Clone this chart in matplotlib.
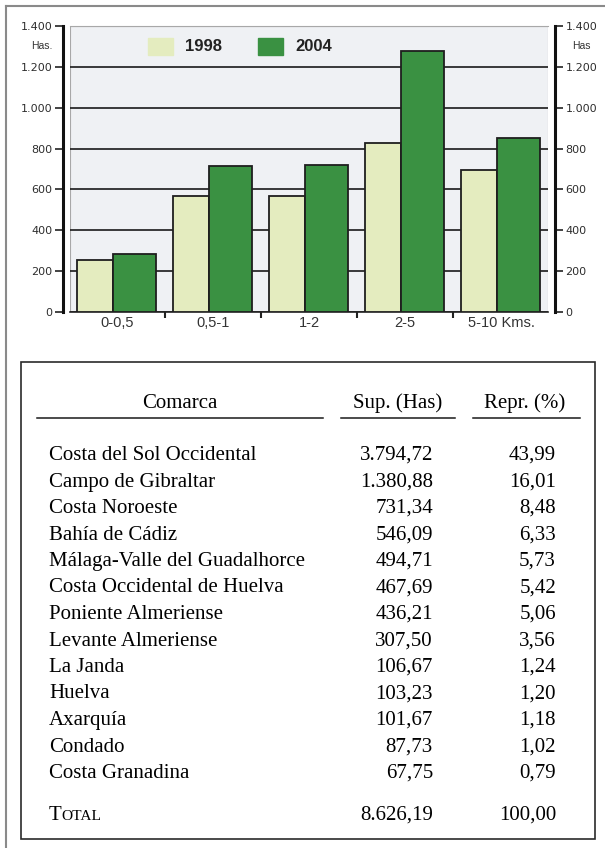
import matplotlib
matplotlib.use("Agg")
import matplotlib.pyplot as plt
from matplotlib.patches import Rectangle
from matplotlib.ticker import FuncFormatter, FixedLocator

# chart data
cats = ["0-0,5", "0,5-1", "1-2", "2-5", "5-10 Kms."]
v1998 = [255, 570, 570, 825, 695]
v2004 = [285, 717, 720, 1280, 851]

# table data
comarcas = ["Costa del Sol Occidental", "Campo de Gibraltar", "Costa Noroeste",
            "Bahía de Cádiz", "Málaga-Valle del Guadalhorce",
            "Costa Occidental de Huelva", "Poniente Almeriense",
            "Levante Almeriense", "La Janda", "Huelva", "Axarquía",
            "Condado", "Costa Granadina"]
sup = ["3.794,72", "1.380,88", "731,34", "546,09", "494,71", "467,69",
       "436,21", "307,50", "106,67", "103,23", "101,67", "87,73", "67,75"]
repr_ = ["43,99", "16,01", "8,48", "6,33", "5,73", "5,42", "5,06", "3,56",
         "1,24", "1,20", "1,18", "1,02", "0,79"]
total_sup = "8.626,19"
total_repr = "100,00"

light = "#e4ecbf"
dark = "#3a9142"
W, H = 605, 848

fig = plt.figure(figsize=(W / 100, H / 100), dpi=100)

# overlay in pixel units for the frame and the table
ov = fig.add_axes([0, 0, 1, 1])
ov.set_xlim(0, W)
ov.set_ylim(H, 0)
ov.axis("off")
ov.plot([6, 6], [6, H], color="#8a8a8a", lw=1.5)
ov.plot([6, W], [6, 6], color="#8a8a8a", lw=1.5)

# ---- bar chart ----
ax = fig.add_axes([70 / W, (H - 312) / H, 478 / W, 286 / H])
ax.set_facecolor("#eff1f4")
x = list(range(len(cats)))
ax.bar([i - 0.42 for i in x], v1998, width=0.38, align="edge", color=light,
       edgecolor="#1e1e1e", lw=1.3, zorder=3)
ax.bar([i - 0.04 for i in x], v2004, width=0.45, align="edge", color=dark,
       edgecolor="#1e1e1e", lw=1.3, zorder=4)
ax.set_xlim(-0.49, 4.49)
ax.set_ylim(0, 1400)

yt = [0, 200, 400, 600, 800, 1000, 1200, 1400]
ax.set_yticks(yt)
ax.yaxis.set_major_formatter(FuncFormatter(lambda v, p: f"{int(v):,}".replace(",", ".")))
ax.yaxis.set_ticks_position("both")
ax.tick_params(axis="y", which="major", direction="out", length=6, width=1.2,
               labelsize=8, labelcolor="#2e2e2e", pad=1.5, labelright=True,
               color="#222222")
ax.grid(axis="y", color="#1a1a1a", lw=1.2, zorder=2)
gls = ax.get_ygridlines()
gls[0].set_visible(False)
gls[-1].set_visible(False)

ax.set_xticks(x)
ax.set_xticklabels(cats)
ax.xaxis.set_minor_locator(FixedLocator([-0.5, 0.5, 1.5, 2.5, 3.5, 4.5]))
ax.tick_params(axis="x", which="major", length=0, labelsize=10.5,
               labelcolor="#333333", pad=3)
ax.tick_params(axis="x", which="minor", direction="out", length=4, width=1.5,
               color="#222222")
for lab in ax.get_xticklabels() + ax.yaxis.get_ticklabels(which="both"):
    lab.set_family("Liberation Sans")
for lab in ax.yaxis.get_majorticklabels():
    lab.set_family("Liberation Sans")

for s in ["left", "right"]:
    ax.spines[s].set_position(("outward", 5))
    ax.spines[s].set_linewidth(2.2)
    ax.spines[s].set_color("#111111")
ax.spines["top"].set_color("#a8a8a8")
ax.spines["top"].set_linewidth(0.8)
ax.spines["bottom"].set_color("#222222")
ax.spines["bottom"].set_linewidth(1.2)
ax.add_patch(Rectangle((0, 0), 1, 1, transform=ax.transAxes, fill=False,
                       ec="#a8a8a8", lw=0.8, zorder=1))

ax.text(-0.036, 0.929, "Has.", transform=ax.transAxes, ha="right", va="center",
        fontsize=7.5, color="#333333", family="Liberation Sans")
ax.text(1.07, 0.929, "Has", transform=ax.transAxes, ha="center", va="center",
        fontsize=7.5, color="#333333", family="Liberation Sans")

# legend
for px, col, lab in [(0.163, light, "1998"), (0.393, dark, "2004")]:
    ax.add_patch(Rectangle((px, 0.899), 0.052, 0.059, transform=ax.transAxes,
                           color=col, zorder=5))
    ax.text(px + 0.078, 0.929, lab, transform=ax.transAxes, ha="left",
            va="center", fontsize=12, fontweight="bold", color="#222222",
            family="Liberation Sans")

# ---- table ----
serif = ["Liberation Serif", "DejaVu Serif"]
fs = 15
ov.add_patch(Rectangle((21, 362), 574, 477, fill=False, ec="#2a2a2a", lw=1.2))

ov.text(180, 408, "Comarca", ha="center", va="baseline", fontsize=fs, family=serif)
ov.text(398, 408, "Sup. (Has)", ha="center", va="baseline", fontsize=fs, family=serif)
ov.text(525, 408, "Repr. (%)", ha="center", va="baseline", fontsize=fs, family=serif)
for x0, x1 in [(37, 323), (341, 455), (473, 580)]:
    ov.plot([x0, x1], [418, 418], color="#1a1a1a", lw=1.1)

for i, name in enumerate(comarcas):
    yb = 460 + 26.5 * i
    ov.text(49, yb, name, ha="left", va="baseline", fontsize=fs, family=serif)
    ov.text(433, yb, sup[i], ha="right", va="baseline", fontsize=fs, family=serif)
    ov.text(556, yb, repr_[i], ha="right", va="baseline", fontsize=fs, family=serif)

yt_ = 820
t = ov.text(49, yt_, "T", ha="left", va="baseline", fontsize=fs, family=serif)
ov.annotate("OTAL", xy=(1, yt_), xycoords=(t, "data"), ha="left",
            va="baseline", fontsize=fs * 0.74, family=serif)
ov.text(433, yt_, total_sup, ha="right", va="baseline", fontsize=fs, family=serif)
ov.text(556, yt_, total_repr, ha="right", va="baseline", fontsize=fs, family=serif)

fig.savefig("out.png", dpi=100)
